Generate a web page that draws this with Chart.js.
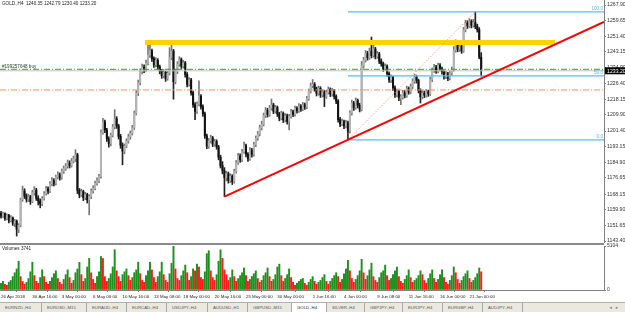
<!DOCTYPE html>
<html>
<head>
<meta charset="utf-8">
<script src="https://cdn.jsdelivr.net/npm/chart.js@4.4.0/dist/chart.umd.min.js"></script>
<style>
  body { margin: 0; width: 625px; height: 312px; overflow: hidden; position: relative; background: #fff;
         font-family: "Liberation Sans", "DejaVu Sans", sans-serif; }
  #main { position: absolute; left: 0; top: 0; }
  #vol { position: absolute; left: 0; top: 241px; }
  #sep { position: absolute; left: 0; top: 243px; width: 604px; height: 2px; background: #8a8a8a; z-index: 2; }
  #head { position: absolute; left: 2px; top: 1px; font-size: 4.6px; color: #222; white-space: pre; z-index: 3; }
  #volLabel { position: absolute; left: 2px; top: 246px; font-size: 4.6px; color: #222; z-index: 3; }
  #tabs { position: absolute; left: 0; top: 302px; width: 625px; height: 10px; background: #ebe9df;
          border-top: 1px solid #b0b0b0; box-sizing: border-box; display: flex; font-size: 4.3px; color: #555; }
  .tab { box-sizing: border-box; border-right: 1px solid #a8a8a8; line-height: 9px; padding-left: 5px; white-space: nowrap; overflow: hidden; }
  .tab.on { background: #fff; color: #222; }
  #arrows { position: absolute; right: 3px; top: 0; line-height: 9px; font-size: 4.5px; color: #777; letter-spacing: 4px; }
</style>
</head>
<body>
<canvas id="main" width="625" height="243"></canvas>
<canvas id="vol" width="625" height="61"></canvas>
<div id="sep"></div>
<div id="head">GOLD.,H4  1240.35 1242.79 1230.40 1233.20</div>
<div id="volLabel">Volumes 3741</div>
<div id="tabs"><span id="arrows">◂▸</span></div>
<script>
// GOLD H4 candles, 26 Apr - 21 Jun 2018
const opens = [
  1158.0,1156.5,1157.8,1155.2,1156.9,1154.1,1155.6,1152.8,1153.9,1149.5,
  1151.7,1165.2,1169.8,1167.1,1165.4,1166.8,1164.2,1168.9,1170.3,1166.0,
  1164.5,1163.0,1165.8,1168.4,1170.9,1169.7,1173.6,1175.2,1173.8,1177.1,
  1178.4,1176.9,1180.2,1181.6,1182.9,1184.6,1183.1,1185.5,1186.8,1188.9,
  1170.2,1167.8,1169.5,1166.3,1167.9,1165.1,1166.9,1169.8,1171.2,1173.9,
  1175.3,1177.4,1200.5,1206.3,1201.9,1197.3,1194.8,1199.2,1203.6,1207.9,
  1204.1,1198.6,1194.0,1190.8,1193.5,1196.1,1198.4,1200.2,1203.1,1210.8,
  1221.4,1226.9,1232.8,1235.1,1233.9,1237.2,1241.5,1243.8,1239.6,1236.4,
  1238.7,1235.3,1233.0,1230.6,1232.4,1229.1,1231.9,1240.2,1243.6,1227.4,
  1232.9,1236.8,1239.1,1235.7,1237.4,1231.2,1226.0,1228.4,1221.7,1215.3,
  1211.8,1215.6,1219.8,1214.2,1210.5,1198.9,1193.4,1196.2,1197.8,1194.5,
  1195.9,1193.1,1187.6,1183.2,1180.4,1176.8,1178.9,1175.3,1177.6,1174.8,
  1180.1,1184.7,1188.3,1186.2,1190.5,1193.7,1189.2,1186.8,1191.4,1189.0,
  1194.3,1197.6,1199.9,1203.1,1205.0,1209.6,1212.3,1210.1,1213.5,1215.2,
  1211.9,1213.8,1210.4,1208.2,1210.7,1207.3,1209.4,1206.5,1209.1,1211.6,
  1210.2,1213.4,1212.1,1214.6,1213.0,1215.3,1214.1,1218.5,1222.4,1225.3,
  1226.1,1223.7,1221.2,1223.9,1220.5,1222.0,1219.6,1221.8,1223.4,1220.9,
  1222.6,1219.7,1217.2,1207.5,1205.1,1206.4,1204.0,1205.8,1201.3,1210.9,
  1216.2,1213.8,1217.5,1215.0,1212.9,1235.8,1238.9,1242.3,1240.1,1243.6,
  1241.2,1244.7,1240.8,1242.1,1238.3,1236.9,1234.2,1235.6,1231.8,1228.5,
  1229.7,1224.2,1220.6,1222.3,1218.9,1219.2,1221.6,1220.1,1223.8,1222.0,
  1224.9,1227.7,1229.8,1228.1,1222.9,1219.5,1221.4,1220.3,1222.1,1221.0,
  1228.6,1233.4,1235.2,1233.0,1236.1,1234.4,1232.7,1230.1,1231.6,1229.3,
  1231.9,1233.8,1244.1,1247.2,1244.5,1246.3,1243.7,1254.8,1258.4,1256.9,
  1259.2,1257.1,1258.6,1256.5,1254.9,1240.35
];
const highs = [
  1159.1,1158.6,1158.3,1157.7,1157.5,1156.8,1156.1,1154.8,1154.5,1152.6,
  1166.0,1172.4,1171.0,1168.3,1168.1,1167.5,1170.2,1172.1,1171.2,1167.3,
  1165.6,1166.9,1169.5,1172.3,1172.0,1174.8,1176.9,1176.3,1178.2,1179.9,
  1179.3,1181.4,1183.0,1184.3,1186.1,1185.7,1186.9,1188.2,1191.6,1189.7,
  1171.1,1170.8,1170.2,1169.1,1168.6,1167.8,1170.9,1172.6,1175.0,1176.7,
  1178.6,1202.0,1208.1,1207.2,1202.8,1198.4,1200.3,1204.9,1212.7,1209.0,
  1205.0,1199.7,1195.2,1194.6,1197.3,1199.8,1201.5,1204.4,1212.0,1222.6,
  1228.3,1234.2,1236.8,1236.4,1238.9,1246.9,1248.0,1244.7,1240.5,1240.1,
  1239.6,1236.2,1233.9,1233.8,1233.1,1233.0,1245.4,1249.3,1244.5,1234.1,
  1238.0,1240.6,1240.0,1238.7,1238.1,1232.3,1229.6,1229.2,1222.5,1216.4,
  1216.8,1227.9,1220.7,1215.3,1211.4,1199.8,1197.5,1199.2,1198.6,1197.0,
  1196.8,1193.9,1188.7,1185.3,1182.1,1180.2,1179.8,1178.9,1178.4,1181.3,
  1185.9,1189.6,1189.4,1191.8,1195.6,1194.5,1190.1,1192.7,1192.3,1195.5,
  1198.8,1201.2,1204.5,1206.6,1210.9,1213.8,1213.4,1214.9,1218.3,1216.1,
  1215.0,1214.6,1211.3,1211.9,1211.5,1210.6,1210.3,1210.2,1212.8,1212.5,
  1214.6,1214.3,1215.9,1215.4,1216.5,1216.2,1219.7,1223.6,1226.7,1228.6,
  1227.0,1224.6,1225.1,1224.8,1223.3,1222.9,1223.0,1224.7,1224.2,1223.9,
  1223.4,1220.5,1218.0,1208.6,1207.7,1207.2,1207.0,1206.7,1212.1,1217.8,
  1217.1,1218.9,1218.3,1216.1,1238.1,1240.3,1243.9,1243.5,1245.2,1251.0,
  1248.5,1245.6,1243.4,1242.9,1239.5,1237.8,1236.9,1236.4,1232.7,1231.0,
  1230.4,1225.3,1223.6,1223.0,1220.6,1222.9,1222.8,1225.1,1224.7,1226.2,
  1229.0,1231.4,1230.9,1228.8,1223.7,1222.7,1222.5,1223.4,1223.0,1229.8,
  1234.7,1236.6,1236.1,1237.3,1237.0,1235.2,1233.5,1232.9,1232.4,1233.1,
  1235.2,1246.0,1249.5,1248.1,1247.6,1247.0,1256.1,1259.9,1259.6,1260.7,
  1260.1,1260.3,1264.3,1257.8,1256.0,1242.79
];
const lows = [
  1155.4,1155.9,1154.3,1154.6,1152.9,1153.5,1151.6,1150.9,1146.0,1147.8,
  1150.9,1164.3,1165.8,1163.9,1164.2,1162.7,1163.6,1167.5,1164.8,1162.4,
  1160.9,1162.1,1164.9,1167.6,1168.2,1168.9,1172.5,1172.4,1173.0,1176.2,
  1175.5,1176.0,1179.1,1180.7,1181.8,1181.9,1182.4,1184.6,1185.3,1168.4,
  1166.2,1166.9,1164.7,1165.2,1163.4,1157.2,1165.8,1168.7,1170.4,1172.8,
  1174.2,1176.5,1199.8,1200.6,1195.9,1192.9,1193.6,1198.3,1202.5,1202.8,
  1197.2,1192.3,1183.6,1189.4,1192.6,1195.0,1197.1,1199.3,1202.2,1209.9,
  1220.1,1225.8,1231.5,1232.2,1232.8,1236.3,1240.2,1238.1,1235.0,1235.3,
  1233.9,1231.6,1229.2,1229.5,1227.6,1228.2,1231.0,1239.1,1218.2,1226.3,
  1231.7,1235.5,1234.4,1234.6,1229.8,1224.7,1225.1,1220.3,1213.9,1207.4,
  1210.7,1214.6,1213.0,1209.1,1197.5,1192.1,1192.3,1195.1,1193.2,1193.4,
  1191.8,1186.2,1181.9,1178.8,1166.8,1175.1,1173.9,1174.2,1173.2,1173.9,
  1179.2,1183.8,1184.9,1185.3,1189.6,1187.8,1185.4,1185.9,1187.6,1188.1,
  1193.2,1196.5,1198.8,1202.0,1204.1,1208.5,1208.8,1209.2,1212.4,1210.6,
  1210.9,1209.1,1206.8,1207.3,1205.9,1206.2,1205.1,1202.0,1208.2,1209.0,
  1209.3,1210.8,1211.2,1211.7,1212.1,1212.8,1213.2,1217.6,1221.5,1224.2,
  1222.4,1219.9,1220.3,1219.1,1219.4,1214.3,1218.7,1220.9,1219.6,1219.8,
  1218.3,1215.8,1206.1,1203.7,1204.2,1202.6,1203.1,1196.8,1200.4,1209.8,
  1212.3,1212.9,1213.6,1211.5,1212.0,1234.7,1237.8,1238.8,1239.2,1240.0,
  1240.3,1239.4,1239.7,1237.0,1235.6,1232.9,1233.3,1230.4,1227.1,1226.9,
  1222.8,1219.2,1219.4,1217.4,1215.3,1218.3,1218.9,1219.2,1220.8,1221.1,
  1223.8,1226.6,1226.7,1221.5,1216.2,1218.4,1219.0,1219.3,1219.7,1220.1,
  1227.5,1232.3,1231.8,1232.1,1233.1,1231.4,1228.8,1229.0,1228.0,1228.4,
  1230.9,1233.0,1243.0,1243.2,1243.4,1242.4,1242.9,1253.7,1255.5,1256.0,
  1255.8,1256.2,1255.4,1253.6,1239.5,1230.40
];
const closes = [
  1156.5,1157.8,1155.2,1156.9,1154.1,1155.6,1152.8,1153.9,1149.5,1151.7,
  1165.2,1169.8,1167.1,1165.4,1166.8,1164.2,1168.9,1170.3,1166.0,1164.5,
  1163.0,1165.8,1168.4,1170.9,1169.7,1173.6,1175.2,1173.8,1177.1,1178.4,
  1176.9,1180.2,1181.6,1182.9,1184.6,1183.1,1185.5,1186.8,1188.9,1170.2,
  1167.8,1169.5,1166.3,1167.9,1165.1,1166.9,1169.8,1171.2,1173.9,1175.3,
  1177.4,1200.5,1206.3,1201.9,1197.3,1194.8,1199.2,1203.6,1207.9,1204.1,
  1198.6,1194.0,1190.8,1193.5,1196.1,1198.4,1200.2,1203.1,1210.8,1221.4,
  1226.9,1232.8,1235.1,1233.9,1237.2,1241.5,1243.8,1239.6,1236.4,1238.7,
  1235.3,1233.0,1230.6,1232.4,1229.1,1231.9,1240.2,1243.6,1227.4,1232.9,
  1236.8,1239.1,1235.7,1237.4,1231.2,1226.0,1228.4,1221.7,1215.3,1211.8,
  1215.6,1219.8,1214.2,1210.5,1198.9,1193.4,1196.2,1197.8,1194.5,1195.9,
  1193.1,1187.6,1183.2,1180.4,1176.8,1178.9,1175.3,1177.6,1174.8,1180.1,
  1184.7,1188.3,1186.2,1190.5,1193.7,1189.2,1186.8,1191.4,1189.0,1194.3,
  1197.6,1199.9,1203.1,1205.0,1209.6,1212.3,1210.1,1213.5,1215.2,1211.9,
  1213.8,1210.4,1208.2,1210.7,1207.3,1209.4,1206.5,1209.1,1211.6,1210.2,
  1213.4,1212.1,1214.6,1213.0,1215.3,1214.1,1218.5,1222.4,1225.3,1226.1,
  1223.7,1221.2,1223.9,1220.5,1222.0,1219.6,1221.8,1223.4,1220.9,1222.6,
  1219.7,1217.2,1207.5,1205.1,1206.4,1204.0,1205.8,1201.3,1210.9,1216.2,
  1213.8,1217.5,1215.0,1212.9,1235.8,1238.9,1242.3,1240.1,1243.6,1241.2,
  1244.7,1240.8,1242.1,1238.3,1236.9,1234.2,1235.6,1231.8,1228.5,1229.7,
  1224.2,1220.6,1222.3,1218.9,1219.2,1221.6,1220.1,1223.8,1222.0,1224.9,
  1227.7,1229.8,1228.1,1222.9,1219.5,1221.4,1220.3,1222.1,1221.0,1228.6,
  1233.4,1235.2,1233.0,1236.1,1234.4,1232.7,1230.1,1231.6,1229.3,1231.9,
  1233.8,1244.1,1247.2,1244.5,1246.3,1243.7,1254.8,1258.4,1256.9,1259.2,
  1257.1,1258.6,1256.5,1254.9,1240.35,1233.20
];
const volumes = [
  781,1012,664,553,902,1108,1561,2004,2447,3336,
  1548,996,671,884,1327,2115,3221,1672,1005,772,
  1446,2338,1559,893,662,1001,1437,1893,2226,1338,
  887,672,1225,1781,2336,1447,779,1114,2003,2441,
  3214,1782,1006,1331,2668,3667,1994,1227,774,1558,
  2113,3892,3658,1551,1004,1338,1885,2671,4665,2224,
  1557,998,1783,2116,2447,1662,1115,1441,2006,2329,
  3226,1891,1107,885,1668,2221,3224,2335,1446,889,
  1553,2112,3219,1779,1112,884,1886,3105,5104,2446,
  1336,1108,1664,2225,2893,2002,1113,1555,2448,2219,
  2996,2667,1442,1224,2107,4214,4556,2226,1447,1109,
  1778,3334,4659,3668,2332,1781,1106,1445,2337,1552,
  1003,1329,1667,2001,2556,1664,998,1226,1558,1889,
  2223,1334,886,1112,1669,1997,2552,1556,1004,1223,
  1775,2663,2999,1668,1001,1335,1777,2443,1446,887,
  556,779,1002,1219,1336,776,558,889,1226,1553,
  1004,667,891,1113,1442,1779,997,669,1006,1334,
  1667,2004,1557,884,1225,1889,2445,3443,2224,1331,
  891,1224,1669,2221,3556,1996,1227,1663,2334,3112,
  1558,1107,886,1446,2003,2226,2889,1664,1112,1337,
  1776,2219,2668,1553,1002,778,1226,1667,2337,1445,
  884,1114,1331,1668,2224,1779,1106,781,1338,1886,
  2332,1335,889,1227,1778,2336,1443,887,668,1115,
  1664,2667,2003,1221,776,1113,1557,1889,2225,1334,
  886,1117,1446,1884,2556,2109
];

// axis ticks
const priceTicks = [1267.90,1259.65,1251.40,1243.15,1234.90,1226.40,1218.15,1209.90,
                    1201.40,1193.15,1184.90,1176.65,1168.15,1159.90,1151.65,1143.40];
const volTicks = [0, 5104];
const timeTickBars = [0,16,31,47,62,78,93,109,125,141,159,175,192,208,224,239];
const timeLabels = ['26 Apr 2018','30 Apr 16:00','3 May 00:00','6 May 00:00','10 May 16:00',
  '13 May 08:00','18 May 00:00','20 May 16:00','25 May 00:00','30 May 00:00','1 Jun 16:00',
  '4 Jun 00:00','9 Jun 08:00','11 Jun 16:00','16 Jun 00:00','21 Jun 00:00'];

// drawn objects (bar index, price)
const bandFrom = [73.5, 1248.1], bandTo = [282.7, 1248.1];
const trendFrom = [114, 1166.8], trendTo = [307.6, 1259.0];
const fibLow = [177, 1196.8], fibHigh = [242, 1264.3];
const fibPercents = [100, 50, 0];
const orderPrice = 1234.0;
const orderLabel = '#199257648 buy';
const stopPrice = 1223.1;
const lastPrice = 1233.20;

const tabNames = ['EURNZD.,H4','EURUSD.,M15','EURAUD.,H4','EURCAD.,H4','USDJPY.,H4','AUDUSD.,H1',
  'GBPUSD.,M15','GOLD.,H4','SILVER.,H4','GBPJPY.,H4','EURJPY.,H4','EURGBP.,H4','AUDJPY.,H4'];
const tabWidths = [42,45,40,40,41,40,44,35,38,38,40,40,40];

const xMin = -0.51, xMax = 307.65;
const bars = closes.map((c, i) => i);

Chart.defaults.font.family = '"Liberation Sans", "DejaVu Sans", sans-serif';
Chart.defaults.font.size = 5;
Chart.defaults.color = '#333';
Chart.defaults.animation = false;

const isUp = i => closes[i] >= opens[i];
const pt = p => ({ x: p[0], y: p[1] });

function hLine(price, color, width, dash, from) {
  return {
    type: 'line', data: [{ x: from, y: price }, { x: xMax, y: price }],
    borderColor: color, borderWidth: width, borderDash: dash || [], pointRadius: 0, order: 1
  };
}

// keep the axes from shrinking the plot for half-label overflow
function fixWidth(s) { s.width = 21; s.paddingTop = 0; s.paddingBottom = 0; }
function fixHeight(s) { s.height = 12; s.paddingLeft = 0; s.paddingRight = 0; }

const fibLevels = fibPercents.map(p => fibLow[1] + (fibHigh[1] - fibLow[1]) * p / 100);

// texts that sit on the price chart
const priceText = {
  id: 'priceText',
  afterDraw(chart) {
    const { ctx, chartArea, scales: { y } } = chart;
    ctx.save();
    ctx.font = '4.6px "Liberation Sans", sans-serif';
    ctx.textBaseline = 'bottom';
    ctx.textAlign = 'right';
    ctx.fillStyle = '#4fb3e8';
    fibLevels.forEach((lv, i) => {
      ctx.fillText(fibPercents[i].toFixed(1), chartArea.right - 1, y.getPixelForValue(lv) - 0.5);
    });
    ctx.textAlign = 'left';
    ctx.fillStyle = '#333';
    ctx.fillText(orderLabel, 2, y.getPixelForValue(orderPrice) - 0.5);
    // current price box on the axis
    const py = y.getPixelForValue(lastPrice);
    ctx.fillStyle = '#000';
    ctx.fillRect(chartArea.right + 1, py - 3.5, 21, 7);
    ctx.fillStyle = '#fff';
    ctx.font = '5.2px "Liberation Sans", sans-serif';
    ctx.textBaseline = 'middle';
    ctx.fillText(lastPrice.toFixed(2), chartArea.right + 3, py + 0.3);
    ctx.restore();
  }
};

new Chart(document.getElementById('main'), {
  type: 'bar',
  data: {
    datasets: [
      {
        type: 'line', data: [pt(trendFrom), pt(trendTo)],
        borderColor: '#ff0000', borderWidth: 2, pointRadius: 0, order: 0
      },
      {
        type: 'line', data: [pt(fibLow), pt(fibHigh)],
        borderColor: '#ff7070', borderWidth: 1, borderDash: [1, 2], pointRadius: 0, order: 1
      },
      ...fibLevels.map(lv => hLine(lv, '#55bff2', 1.2, null, fibLow[0])),
      hLine(orderPrice, '#3a9a3a', 1, [6, 2, 1, 2], xMin),
      hLine(lastPrice, '#c4c4c4', 1, null, xMin),
      hLine(stopPrice, '#ff8c5a', 1, [6, 2, 1, 2], xMin),
      {
        type: 'line', data: [pt(bandFrom), pt(bandTo)],
        borderColor: '#ffd200', borderWidth: 5, borderCapStyle: 'butt', pointRadius: 0, order: 2
      },
      {
        data: bars.map(i => ({ x: i, y: [opens[i], closes[i]] })),
        backgroundColor: bars.map(i => isUp(i) ? '#b4b4b4' : '#111111'),
        barThickness: 1.4, minBarLength: 1, grouped: false, order: 5
      },
      {
        data: bars.map(i => ({ x: i, y: [lows[i], highs[i]] })),
        backgroundColor: bars.map(i => isUp(i) ? '#777777' : '#222222'),
        barThickness: 1, grouped: false, order: 6
      }
    ]
  },
  options: {
    responsive: false,
    layout: { padding: 0 },
    plugins: { legend: { display: false }, tooltip: { enabled: false } },
    scales: {
      x: { type: 'linear', display: false, min: xMin, max: xMax, offset: false },
      y: {
        position: 'right', min: 1142.35, max: 1270.54,
        afterFit: fixWidth,
        afterBuildTicks: s => { s.ticks = priceTicks.map(v => ({ value: v })); },
        ticks: { callback: v => v.toFixed(2), padding: 1, autoSkip: false, font: { size: 5.2 }, color: '#333' },
        grid: { drawOnChartArea: false, tickLength: 2, color: '#808080' },
        border: { color: '#808080' }
      }
    }
  },
  plugins: [priceText]
});

new Chart(document.getElementById('vol'), {
  type: 'bar',
  data: {
    datasets: [{
      data: bars.map(i => ({ x: i, y: volumes[i] })),
      backgroundColor: bars.map(i => (i === 0 || volumes[i] > volumes[i - 1]) ? '#1e901e' : '#ff1a1a'),
      barThickness: 1.3, grouped: false
    }]
  },
  options: {
    responsive: false,
    layout: { padding: { top: 5 } },
    plugins: { legend: { display: false }, tooltip: { enabled: false } },
    scales: {
      x: {
        type: 'linear', min: xMin, max: xMax, offset: false,
        afterFit: fixHeight,
        afterBuildTicks: s => { s.ticks = timeTickBars.map(v => ({ value: v })); },
        ticks: { callback: (v, i) => timeLabels[i], align: 'start', maxRotation: 0, autoSkip: false,
                 padding: 2, font: { size: 4.4 }, color: '#222' },
        grid: { drawOnChartArea: false, tickLength: 2, color: '#808080' },
        border: { color: '#808080' }
      },
      y: {
        position: 'right', min: 0, max: 5104,
        afterFit: fixWidth,
        afterBuildTicks: s => { s.ticks = volTicks.map(v => ({ value: v })); },
        ticks: { callback: v => String(v), padding: 1, font: { size: 5 }, color: '#333' },
        grid: { drawOnChartArea: false, tickLength: 2, color: '#808080' },
        border: { color: '#808080' }
      }
    }
  }
});

// symbol tabs under the chart
const tabs = document.getElementById('tabs');
tabNames.forEach((name, i) => {
  const t = document.createElement('span');
  t.className = 'tab' + (name === 'GOLD.,H4' ? ' on' : '');
  t.style.width = tabWidths[i] + 'px';
  t.textContent = name;
  tabs.insertBefore(t, document.getElementById('arrows'));
});
</script>
</body>
</html>
